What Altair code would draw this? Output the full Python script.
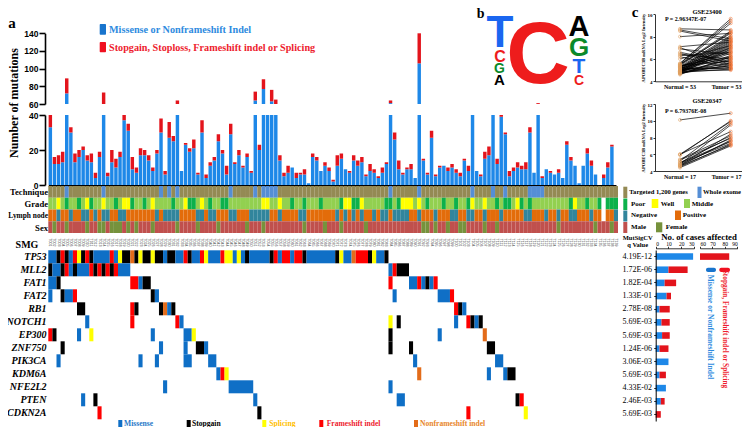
import altair as alt
import pandas as pd

SERIF = "Liberation Serif"
SANS = "Liberation Sans"
BLUE = "#1E88E8"; RED = "#E3141C"
CELL = {"m": "#0F6FC6", "s": "#000000", "p": "#FFFF00", "f": "#FF0000", "n": "#E36C1A"}
OX, OY = 8, 8
W, H = 734, 419

# ---------- panel a: mutations per sample (missense-like, truncating-like)
missense = [33,12,12,13,72,30,13,16,20,14,13,4,16,60,5,13,10,16,37,31,9,7,17,17,14,8,18,30,6,27,25,60,8,23,19,21,6,30,4,11,14,25,18,6,29,12,17,10,16,7,
            64,20,77,45,63,60,14,5,7,10,4,6,6,1,16,14,8,11,8,2,11,15,9,7,14,11,13,5,8,7,4,7,12,61,26,9,6,9,9,4,106,14,6,27,5,10,11,8,10,7,5,14,8,45,8,5,15,17,45,12,39,29,5,8,10,9,9,30,7,60,4,9,7,6,7,4,23,14,11,1,11,18,11,6,0,4,10,22,0]
truncating = [7,4,5,6,17,3,5,4,2,3,5,3,3,13,2,7,5,3,3,4,7,3,4,3,3,2,2,8,2,9,3,4,0,1,2,5,1,7,2,2,2,4,2,5,6,1,3,1,2,1,
              10,3,11,0,13,5,3,2,4,0,3,1,3,0,2,2,0,2,2,1,6,3,0,1,3,3,3,1,4,2,1,3,1,3,4,5,1,1,3,0,34,1,1,4,1,1,0,2,2,2,2,1,3,0,0,1,4,5,0,3,1,1,3,2,3,2,4,3,0,1,1,0,1,0,2,0,2,2,0,0,0,3,3,0,0,2,3,1,0]
N = len(missense)

# ---------- clinical tracks: sample indices that differ from the base class
whole_exome = [4,13,27,29,31,44,50,52,53,54,55,83,90,103,108,111,117,118,119,120]
grade_poor = [4,7,10,16,20,23,30,34,35,39,42,43,59,62,66,71,74,75,82,83,85,92,96,99,102,109,111,112,115,117,127,131,134,136,137,138]
grade_well = [2,9,13,18,19,25,33,37,52,53,56,72,73,76,86,87,88,90,103,106,114,128]
node_negative = [2,5,8,9,11,13,14,17,18,26,28,29,30,31,36,37,39,40,44,45,49,50,51,52,53,56,61,62,70,72,74,76,79,81,82,84,85,86,87,90,94,98,99,102,103,106,110,116,117,121,124,127,128,132,138]
sex_female = [1,4,9,12,13,15,16,17,19,21,25,31,36,41,48,52,62,67,71,77,91,92,94,97,100,101,106,109,124,133,137]
missing_clinical = [135]
track_names = ["Technique", "Grade", "Lymph node", "Sex"]

sample_ids = ["T%03d" % k for k in range(1, 140)]

# ---------- oncoprint: gene -> runs (first sample, last sample, class)
genes = ["TP53","MLL2","FAT1","FAT2","RB1","NOTCH1","EP300","ZNF750","PIK3CA","KDM6A","NFE2L2","PTEN","CDKN2A"]
onco = {
 "TP53": [(0,1,"m"),(2,2,"s"),(3,3,"f"),(4,4,"s"),(5,5,"m"),(6,6,"f"),(7,7,"p"),(8,8,"s"),(9,9,"f"),(10,10,"s"),(11,14,"m"),(15,15,"f"),(16,16,"m"),(17,17,"p"),(18,19,"s"),(20,20,"n"),(21,21,"s"),(22,22,"p"),(23,24,"s"),(25,25,"p"),(26,27,"s"),(28,28,"m"),(29,30,"s"),(31,32,"m"),(33,33,"f"),(34,34,"s"),(35,36,"m"),(37,37,"f"),(38,38,"p"),(39,41,"m"),(42,42,"f"),(43,44,"p"),(45,45,"m"),(46,46,"p"),(47,47,"m"),(48,48,"s"),(49,53,"m"),(54,54,"s"),(55,55,"f"),(56,56,"m"),(57,58,"f"),(59,59,"m"),(60,61,"f"),(62,62,"s"),(63,69,"m"),(70,70,"s"),(71,71,"p"),(72,73,"m"),(74,74,"n"),(75,77,"f"),(78,78,"s"),(79,79,"p"),(80,81,"m"),(82,82,"s")],
 "MLL2": [(0,0,"s"),(1,2,"m"),(3,3,"s"),(4,4,"f"),(5,5,"m"),(6,6,"s"),(7,9,"m"),(10,10,"f"),(11,11,"s"),(12,12,"f"),(13,13,"s"),(14,14,"f"),(15,15,"s"),(16,16,"f"),(17,19,"m"),(83,83,"m"),(84,84,"f"),(85,87,"s")],
 "FAT1": [(0,1,"m"),(2,2,"s"),(20,21,"f"),(22,22,"m"),(23,24,"s"),(83,83,"f"),(88,89,"m"),(90,90,"f"),(91,91,"m"),(92,92,"s"),(93,93,"m"),(94,94,"f")],
 "FAT2": [(0,0,"m"),(3,3,"s"),(4,5,"m"),(6,6,"f"),(25,25,"s"),(26,26,"m"),(84,84,"m"),(95,97,"m"),(98,98,"f")],
 "RB1": [(7,8,"s"),(20,20,"f"),(21,21,"s"),(27,27,"s"),(28,28,"n"),(29,29,"m"),(30,30,"s"),(99,99,"f"),(100,100,"s"),(101,101,"m")],
 "NOTCH1": [(9,9,"m"),(20,20,"f"),(31,31,"f"),(32,32,"m"),(83,83,"p"),(85,85,"s"),(99,99,"m"),(102,102,"f"),(103,103,"s"),(104,104,"m"),(105,105,"s")],
 "EP300": [(0,0,"f"),(1,1,"s"),(7,7,"m"),(10,10,"p"),(25,25,"m"),(33,34,"m"),(35,35,"p"),(83,83,"s"),(95,95,"m"),(106,106,"n")],
 "ZNF750": [(3,3,"s"),(27,27,"m"),(33,33,"m"),(36,37,"s"),(38,38,"m"),(83,83,"s"),(88,88,"s"),(107,108,"s")],
 "PIK3CA": [(2,2,"m"),(22,22,"m"),(26,26,"m"),(33,34,"m"),(39,40,"m"),(89,89,"m"),(109,110,"m")],
 "KDM6A": [(41,41,"m"),(42,42,"f"),(43,43,"p"),(90,90,"n"),(107,107,"m"),(111,111,"m"),(112,113,"s")],
 "NFE2L2": [(28,28,"m"),(44,49,"m"),(83,83,"m")],
 "PTEN": [(8,8,"m"),(11,11,"s"),(50,50,"m"),(85,86,"m"),(114,114,"s"),(115,115,"f")],
 "CDKN2A": [(12,12,"f"),(51,51,"s"),(102,102,"f"),(116,116,"p")],
}
q_values = ["4.19E-12","1.72E-06","1.82E-04","1.33E-01","2.78E-08","5.69E-03","5.69E-03","1.24E-06","3.06E-03","5.69E-03","4.33E-02","2.46E-03","5.69E-03"]
cases_missense = [29.3,10,7,8.5,3,4.5,5,3,10,3,8,4,0]
cases_total = [83.5,25,16,12,11,11,11,10,10,8,8,7,4]

# ---------- panel c
gse1_normal = [8.7,8.6,8.5,8.0,7.1,7.0,6.9,6.6,6.5,6.4,6.3,6.2,6.0,5.6,5.6,5.5,5.5,5.5,5.4,5.4,5.4,5.3,5.3,5.3,5.2,5.2,5.2,5.2,5.1,5.1,5.1,5.1,5.0,5.0,5.0,5.0,5.0,4.9,4.9,4.9,4.9,4.9,4.9,4.8,4.8,4.8,4.8,4.8,4.7,4.7,4.7,4.7,4.6]
gse1_tumor = [8.6,7.8,7.6,8.3,7.5,5.5,6.4,5.7,5.4,6.0,6.6,5.2,7.2,9.6,9.4,9.2,8.5,8.3,6.2,8.4,5.8,8.1,7.0,6.6,8.0,7.9,5.1,6.1,7.8,7.7,5.3,6.8,7.6,7.5,5.6,6.5,5.2,7.4,7.3,5.0,5.9,6.3,7.2,7.1,7.0,5.4,6.7,5.1,6.9,5.5,6.0,5.7,6.2]
gse2_normal = [10.1,6.0,6.0,5.9,5.4,5.3,5.2,5.0,5.0,4.9,4.8,4.7,4.7,4.6,4.6,4.5,4.4]
gse2_tumor = [10.9,9.9,8.7,10.0,8.2,7.9,9.7,7.5,8.0,7.3,9.5,7.6,8.4,7.1,7.7,7.2,7.0]


def PX(*v):
    return [a - OX for a in v]
def PY(*v):
    return [a - OY for a in v]
def sc(domain, rng):
    return alt.Scale(domain=domain, range=rng, nice=False, zero=False)


def txt(s, x, y, size=8, color="black", weight="bold", font=SERIF, style="normal", angle=0, align="left", baseline="middle"):
    return alt.Chart(pd.DataFrame({"t": [s]})).mark_text(
        fontSize=size, color=color, fontWeight=weight, font=font, fontStyle=style,
        angle=angle, align=align, baseline=baseline
    ).encode(x=alt.value(x - OX), y=alt.value(y - OY), text="t:N")


def box(x0, x1, y0, y1, color, radius=0):
    return alt.Chart(pd.DataFrame({"k": [0]})).mark_rect(color=color, cornerRadius=radius).encode(
        x=alt.value(x0 - OX), x2=alt.value(x1 - OX), y=alt.value(y0 - OY), y2=alt.value(y1 - OY))


layers = []
sx = sc([0, 139], PX(48.3, 618))

# bars
rows_low, rows_up = [], []
for i, (m, t) in enumerate(zip(missense, truncating)):
    tot = m + t
    if m > 0:
        rows_low.append((i + .08, i + .92, 0, min(m, 40), BLUE))
    if t > 0 and m < 40:
        rows_low.append((i + .08, i + .92, m, min(tot, 40), RED))
    if m > 60:
        rows_up.append((i + .08, i + .92, 60, m, BLUE))
    if tot > 60 and t > 0:
        rows_up.append((i + .08, i + .92, max(m, 60), tot, RED))
cols = ["a", "b", "y0", "y1", "c"]
ax_kw = dict(labelFont=SANS, labelFontWeight="bold", labelFontSize=8.5, labelColor="black", domainColor="black",
             tickColor="black", domainWidth=1.6, tickWidth=1.6, tickSize=6, labelPadding=1, grid=False, title=None)
layers.append(alt.Chart(pd.DataFrame(rows_low, columns=cols)).mark_rect().encode(
    x=alt.X("a:Q", scale=sc([0, 138.5], PX(48.3, 616)), axis=alt.Axis(orient="bottom", offset=(185.5 - OY - H), labels=False, ticks=False, domainWidth=2, domainColor="black", grid=False, title=None)),
    x2="b:Q",
    y=alt.Y("y0:Q", scale=sc([0, 40], PY(185, 115)), axis=alt.Axis(orient="left", offset=-(45 - OX), values=[0, 20, 40], **ax_kw)),
    y2="y1:Q", color=alt.Color("c:N", scale=None)))
layers.append(alt.Chart(pd.DataFrame(rows_up, columns=cols)).mark_rect().encode(
    x=alt.X("a:Q", scale=sx, axis=None), x2="b:Q",
    y=alt.Y("y0:Q", scale=sc([60, 140], PY(104, 33.3)), axis=alt.Axis(orient="left", offset=-(45 - OX), values=[60, 80, 100, 120, 140], **ax_kw)),
    y2="y1:Q", color=alt.Color("c:N", scale=None)))
layers.append(txt("Number of mutations", 14, 103, size=12, angle=270, align="center"))

# tracks
TRACK = {"Targeted": "#948A54", "Whole": "#558ED5", "Middle": "#92D050", "Poor": "#0CB14B", "Well": "#FFFF00",
         "Positive": "#E36C0A", "Negative": "#31859C", "Male": "#C0504D", "Female": "#76923C", "NA": "#FFFFFF"}
tr = []
for i in range(N):
    g = "Poor" if i in grade_poor else "Well" if i in grade_well else "NA" if i in missing_clinical else "Middle"
    l = "Negative" if i in node_negative else "NA" if i in missing_clinical else "Positive"
    tr += [(i, i + 1, "Technique", TRACK["Whole" if i in whole_exome else "Targeted"]),
           (i, i + 1, "Grade", TRACK[g]), (i, i + 1, "Lymph node", TRACK[l]),
           (i, i + 1, "Sex", TRACK["Female" if i in sex_female else "Male"])]
layers.append(alt.Chart(pd.DataFrame(tr, columns=["a", "b", "r", "c"])).mark_rect().encode(
    x=alt.X("a:Q", scale=sx, axis=None), x2="b:Q",
    y=alt.Y("r:N", scale=alt.Scale(type="band", domain=track_names, range=PY(186, 233), paddingInner=0, paddingOuter=0), axis=None),
    color=alt.Color("c:N", scale=None)))
for s, y, fs in [("Technique", 192, 8.6), ("Grade", 204, 8.6), ("Lymph node", 215.5, 7.4), ("Sex", 227.5, 8.6)]:
    layers.append(txt(s, 48, y, size=fs, align="right"))

# sample ids
layers.append(alt.Chart(pd.DataFrame({"p": [i + .5 for i in range(N)], "s": sample_ids, "v": [0] * N})).mark_text(
    fontSize=3.6, angle=90, font=SANS, color="#333333").encode(
    x=alt.X("p:Q", scale=sx, axis=None), y=alt.value(242.5 - OY), text="s:N"))

# oncoprint
cells = [(a, b + 1, g, CELL[k]) for g in genes for a, b, k in onco[g]]
layers.append(alt.Chart(pd.DataFrame(cells, columns=["a", "b", "g", "c"])).mark_rect().encode(
    x=alt.X("a:Q", scale=sx, axis=None), x2="b:Q",
    y=alt.Y("g:N", scale=alt.Scale(type="band", domain=genes, range=PY(250.3, 419.3), paddingInner=0, paddingOuter=0),
            axis=alt.Axis(orient="left", offset=-(47 - OX), domain=False, ticks=False, labelFont=SERIF, labelFontStyle="italic",
                          labelFontWeight="bold", labelFontSize=10, labelColor="black", labelPadding=1, title=None, grid=False)),
    color=alt.Color("c:N", scale=None)))
layers.append(txt("SMG", 27, 245, size=10, align="center"))

# legends
layers += [box(99.7, 106, 24, 34.7, "#1874CD", 1), txt("Missense or Nonframeshift Indel", 109, 29.5, size=10.2, color="#2E8BE0"),
           box(99.7, 106, 42, 52.3, "#F01020", 1), txt("Stopgain, Stoploss, Frameshift indel or Splicing", 109, 47.7, size=10.2, color="#EE1C2E")]
for x0, tx, s, c, tc in [(118.3, 124, "Missense", CELL["m"], "#1F78C8"), (186.7, 192, "Stopgain", "#000000", "#000000"),
                         (262.3, 269.3, "Splicing", "#FFFF00", "#FFC000"), (319.3, 326.7, "Frameshift indel", "#FF0000", "#EE1C2E"),
                         (414, 420, "Nonframeshift indel", "#E36C1A", "#E8862A")]:
    layers += [box(x0, x0 + 4, 420, 427, c), txt(s, tx, 423.5, size=7.6, color=tc)]
for x0, x1, y0, y1, c in [(623.3, 627.3, 186.7, 198, "Targeted"), (623.3, 627.3, 198.5, 210, "Poor"), (623.3, 627.3, 210.5, 221.5, "Negative"),
                          (623.3, 627.3, 222, 233, "Male"), (697.5, 701.5, 186.7, 198, "Whole"), (651.7, 658.3, 199, 208, "Well"),
                          (684, 690, 199, 208, "Middle"), (675, 681, 210.5, 220, "Positive"), (656, 662.3, 222.3, 232.3, "Female")]:
    layers.append(box(x0, x1, y0, y1, TRACK[c]))
for s, x, y, fs in [("Targeted 1,200 genes", 629.3, 192.3, 6.6), ("Whole exome", 703, 192.3, 6.6), ("Poor", 631, 203.7, 7), ("Well", 660.7, 203.7, 7),
                ("Middle", 691.7, 203.7, 7), ("Negative", 631, 215.3, 7), ("Positive", 682.7, 215.3, 7), ("Male", 631, 227.3, 7), ("Female", 665.7, 227.3, 7)]:
    layers.append(txt(s, x, y, size=fs))
layers += [txt("a", 12, 23, size=15, align="center"), txt("b", 480.7, 13.5, size=14, align="center"), txt("c", 635, 11.5, size=15, align="center")]

# panel b logo (letter, x centre, baseline y, size, colour)
logo = [("T", 500, 47, 44, "#1A66F0"), ("C", 538, 83, 88, "#EE1C1C"), ("C", 500, 61.5, 16, "#EE1C1C"), ("G", 499.5, 72.5, 14, "#0A8A2A"),
        ("A", 499.5, 85, 15, "#000000"), ("A", 579, 35.5, 29, "#000000"), ("G", 579, 55.5, 26, "#0A8A2A"), ("T", 579, 72.5, 21, "#1A66F0"),
        ("C", 579, 84.5, 14, "#EE1C1C")]
for l, x, y, s, c in logo:
    layers.append(txt(l, x, y, size=s, color=c, font=SANS, align="center", baseline="alphabetic"))

# panel c
def pair_plot(normal, tumor, ytop, ybot, dom, vals, n_label):
    d = pd.DataFrame({"k": list(range(len(normal))) * 2, "x": [0] * len(normal) + [1] * len(tumor), "v": normal + tumor})
    xs = sc([-0.493, 1.223], PX(655, 742))
    ys = sc(dom, PY(ybot, ytop))
    ak = dict(labelFont=SERIF, labelFontWeight="bold", labelColor="black", domainColor="black", tickColor="black", grid=False, title=None,
              domainWidth=0.8, tickWidth=0.8)
    xax = alt.Axis(orient="bottom", offset=(ybot - OY - H), values=[0, 1], ticks=False, labels=False, **ak)
    yax = alt.Axis(orient="left", offset=-(655 - OX), values=vals, tickSize=2, labelFontSize=5, labelPadding=1, **ak)
    lines = alt.Chart(d).mark_line(color="black", strokeWidth=0.7).encode(
        x=alt.X("x:Q", scale=xs, axis=xax), y=alt.Y("v:Q", scale=ys, axis=yax), detail="k:N")
    pts = alt.Chart(d).mark_point(filled=False, size=9, strokeWidth=0.8).encode(
        x=alt.X("x:Q", scale=xs, axis=None), y=alt.Y("v:Q", scale=ys, axis=None),
        color=alt.condition("datum.x == 0", alt.value("#E0A060"), alt.value("#F07030")))
    return [lines, pts,
            txt("Normal = %d" % n_label, 680, ybot + 6, size=6, align="center"),
            txt("Tumor = %d" % n_label, 741.5, ybot + 6, size=6, align="right")]

layers += pair_plot(gse1_normal, gse1_tumor, 14.3, 81.3, [4, 10], [4, 6, 8, 10], 53)
layers += pair_plot(gse2_normal, gse2_tumor, 104, 171, [4, 12], [4, 6, 8, 10, 12], 17)
layers += [txt("GSE23400", 707, 11.5, size=6.5, align="center"), txt("GSE20347", 707, 101, size=6.5, align="center"),
           txt("P = 2.96347E-07", 665, 19.3, size=6), txt("P = 6.79376E-08", 665, 110.7, size=6),
           txt("APOBEC3B mRNA Log2 Intensity", 643.5, 48, size=4.6, angle=270, align="center"),
           txt("APOBEC3B mRNA Log2 Intensity", 643.5, 138, size=4.6, angle=270, align="center")]

# panel d: MutSigCV and case counts
sxl = sc([0, 30], PX(655.7, 694))
sxr = sc([60, 90], PX(700, 737.3))
ysd = alt.Scale(type="band", domain=genes, range=PY(250, 421), paddingInner=0.5, paddingOuter=0.25)
axk = dict(orient="top", offset=-(248.3 - OY), tickSize=2, labelFont=SERIF, labelFontSize=5.5, labelColor="black", labelPadding=0,
           domainColor="black", tickColor="black", domainWidth=0.8, tickWidth=0.8, grid=False, title=None)
seg_blue = [(0, m, g) for g, m in zip(genes, cases_missense) if m > 0]
seg_red = [(m, min(t, 30), g) for g, m, t in zip(genes, cases_missense, cases_total) if t <= 30]
seg_up = [(60, t, g) for g, t in zip(genes, cases_total) if t > 30]
layers.append(alt.Chart(pd.DataFrame(seg_blue, columns=["a", "b", "g"])).mark_rect(color=BLUE).encode(
    x=alt.X("a:Q", scale=sxl, axis=alt.Axis(values=[0, 10, 20, 30], **axk)), x2="b:Q",
    y=alt.Y("g:N", scale=ysd, axis=alt.Axis(orient="left", offset=-(655.7 - OX), labels=False, tickSize=2, domainColor="black",
                                            tickColor="black", domainWidth=1, tickWidth=.8, grid=False, title=None))))
layers.append(alt.Chart(pd.DataFrame(seg_red, columns=["a", "b", "g"])).mark_rect(color=RED).encode(
    x=alt.X("a:Q", scale=sxl, axis=None), x2="b:Q", y=alt.Y("g:N", scale=ysd, axis=None)))
layers.append(alt.Chart(pd.DataFrame(seg_up, columns=["a", "b", "g"])).mark_rect(color=RED).encode(
    x=alt.X("a:Q", scale=sxr, axis=alt.Axis(values=[60, 70, 80, 90], **axk)), x2="b:Q", y=alt.Y("g:N", scale=ysd, axis=None)))
layers.append(alt.Chart(pd.DataFrame({"g": genes, "q": q_values})).mark_text(font=SERIF, fontSize=8, align="right", color="black").encode(
    x=alt.value(652 - OX), y=alt.Y("g:N", scale=ysd, axis=None), text="q:N"))
layers += [txt("MutSigCV", 637.7, 237.7, size=6.5, align="center"), txt("q Value", 637.7, 245, size=6.5, align="center"),
           txt("No. of cases affected", 699, 237, size=8.8, align="center"),
           box(706, 716, 267.7, 272, "#1874CD", 2), box(719.3, 730, 267.7, 272, "#F01020", 2),
           txt("Missense or Nonframeshift Indel", 710, 327, size=7.5, color="#2E8BE0", angle=90, align="center"),
           txt("Stopgain, Frameshift indel or Splicing", 725, 329, size=7.3, color="#EE1C2E", angle=90, align="center")]

chart = alt.layer(*layers).resolve_scale(x="independent", y="independent").properties(
    width=W, height=H, padding=0, autosize=alt.AutoSizeParams(type="none")
).configure_view(stroke=None)
chart.save("out.html", embed_options={"renderer": "svg", "actions": False})
